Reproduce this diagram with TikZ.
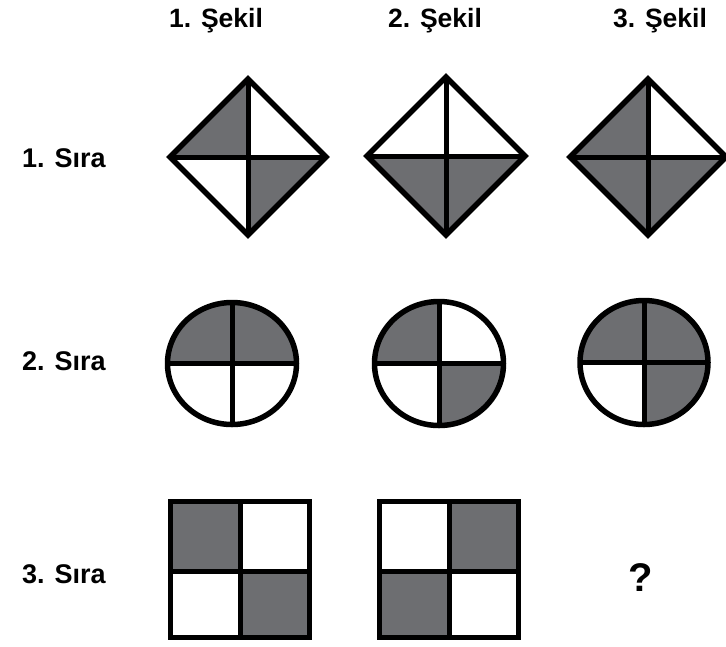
\documentclass[tikz,border=0pt]{standalone}
\usepackage{fontspec}
\setmainfont{Liberation Sans}
\definecolor{figgray}{RGB}{109,110,113}
\begin{document}
\begin{tikzpicture}[x=1pt,y=-1pt,
  outline/.style={draw=black,line width=5.5pt},
  divider/.style={draw=black,line width=5pt},
  lab/.style={font=\bfseries\fontsize{27}{27}\selectfont,inner sep=0pt,anchor=base west},
  head/.style={font=\bfseries\fontsize{26.5}{26.5}\selectfont,inner sep=0pt,anchor=base}]
\useasboundingbox (0,0) rectangle (726,646);
\fill[white] (0,0) rectangle (726,646);

% headers
\node[head] (h1) at (216,27) {1. Şekil};
\node[head] (h2) at (435,27) {2. Şekil};
\node[head] (h3) at (660,27) {3. Şekil};
% row labels
\node[lab] (r1) at (22,167) {1. Sıra};
\node[lab] (r2) at (22,370) {2. Sıra};
\node[lab] (r3) at (22,583) {3. Sıra};

% ---- row 1: diamonds
\begin{scope}[shift={(248,157)}]
  \fill[figgray] (0,0) -- (-78,0) -- (0,-78) -- cycle;
  \fill[figgray] (0,0) -- (78,0) -- (0,78) -- cycle;
  \draw[divider] (-78,0) -- (78,0) (0,-78) -- (0,78);
  \draw[outline] (0,-78) -- (78,0) -- (0,78) -- (-78,0) -- cycle;
\end{scope}
\begin{scope}[shift={(446,156)}]
  \fill[figgray] (-79,0) -- (79,0) -- (0,79) -- cycle;
  \draw[divider] (-79,0) -- (79,0) (0,-79) -- (0,79);
  \draw[outline] (0,-79) -- (79,0) -- (0,79) -- (-79,0) -- cycle;
\end{scope}
\begin{scope}[shift={(648,157)}]
  \fill[figgray] (0,0) -- (-78,0) -- (0,-78) -- cycle;
  \fill[figgray] (-78,0) -- (78,0) -- (0,78) -- cycle;
  \draw[divider] (-78,0) -- (78,0) (0,-78) -- (0,78);
  \draw[outline] (0,-78) -- (78,0) -- (0,78) -- (-78,0) -- cycle;
\end{scope}

% ---- row 2: circles
\begin{scope}[shift={(232,363.5)}]
  \begin{scope}
    \clip (0,0) ellipse [x radius=64.5, y radius=61];
    \fill[figgray] (-70,-70) rectangle (70,0);
  \end{scope}
  \draw[divider] (-64.5,0) -- (64.5,0) (0,-61) -- (0,61);
  \draw[outline] (0,0) ellipse [x radius=64.5, y radius=61];
\end{scope}
\begin{scope}[shift={(439,363.5)}]
  \begin{scope}
    \clip (0,0) ellipse [x radius=64.5, y radius=62];
    \fill[figgray] (-70,-70) rectangle (0,0);
    \fill[figgray] (0,0) rectangle (70,70);
  \end{scope}
  \draw[divider] (-64.5,0) -- (64.5,0) (0,-62) -- (0,62);
  \draw[outline] (0,0) ellipse [x radius=64.5, y radius=62];
\end{scope}
\begin{scope}[shift={(644,362.5)}]
  \begin{scope}
    \clip (0,0) ellipse [x radius=64, y radius=62];
    \fill[figgray] (-70,-70) rectangle (70,0);
    \fill[figgray] (0,0) rectangle (70,70);
  \end{scope}
  \draw[divider] (-64,0) -- (64,0) (0,-62) -- (0,62);
  \draw[outline] (0,0) ellipse [x radius=64, y radius=62];
\end{scope}

% ---- row 3: squares
\fill[figgray] (170.5,501.5) rectangle (240,571);
\fill[figgray] (240,571) rectangle (309.5,637.5);
\draw[divider] (170.5,571) -- (309.5,571) (240,501.5) -- (240,637.5);
\draw[outline] (170.5,501.5) rectangle (309.5,637.5);

\fill[figgray] (449,501.5) rectangle (518.5,571);
\fill[figgray] (379.5,571) rectangle (449,637.5);
\draw[divider] (379.5,571) -- (518.5,571) (449,501.5) -- (449,637.5);
\draw[outline] (379.5,501.5) rectangle (518.5,637.5);

\node[font=\bfseries\fontsize{40}{40}\selectfont,inner sep=0pt,anchor=base] (q) at (641,591) {?};
\end{tikzpicture}
\end{document}
